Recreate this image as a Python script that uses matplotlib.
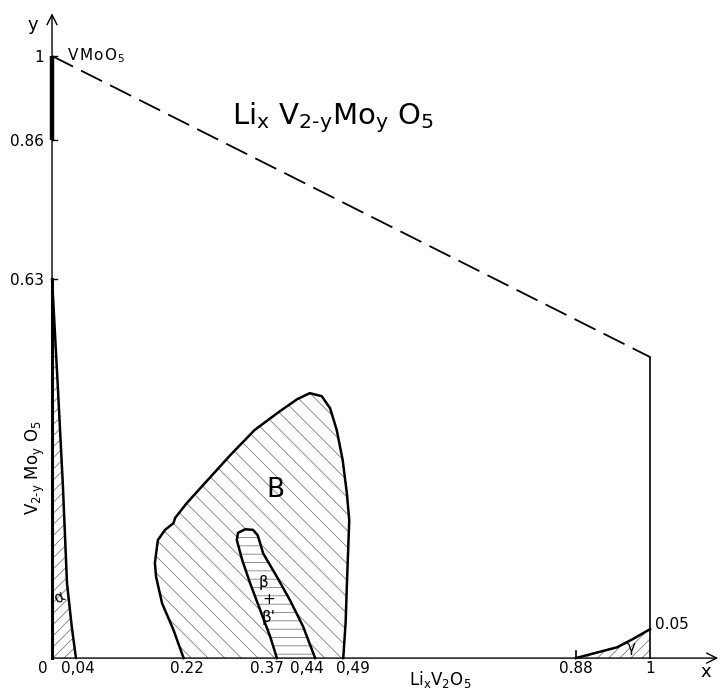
import matplotlib
matplotlib.use("Agg")
import matplotlib.pyplot as plt
from matplotlib.transforms import ScaledTranslation

plt.rcParams['font.family'] = ['DejaVu Sans']
plt.rcParams['hatch.linewidth'] = 0.55

# ---------------- data ----------------
# alpha phase: boundary x(y) near the y axis
alpha_x = [0.0, 0.010, 0.018, 0.025, 0.033, 0.040, 0.0]
alpha_y = [0.63, 0.445, 0.29, 0.125, 0.052, 0.0, 0.0]

# B phase outer boundary
b_x = [0.22, 0.203, 0.184, 0.174, 0.172, 0.177, 0.189, 0.203, 0.206, 0.225,
       0.256, 0.298, 0.339, 0.381, 0.410, 0.431, 0.451, 0.465, 0.476, 0.486,
       0.493, 0.497, 0.495, 0.493, 0.491, 0.487]
b_y = [0.0, 0.047, 0.091, 0.135, 0.158, 0.196, 0.213, 0.224, 0.233, 0.257,
       0.291, 0.337, 0.379, 0.410, 0.430, 0.440, 0.435, 0.415, 0.379, 0.329,
       0.274, 0.229, 0.174, 0.120, 0.060, 0.0]

# beta + beta' two-phase region
bb_x = [0.376, 0.365, 0.348, 0.331, 0.318, 0.309, 0.311, 0.323, 0.336, 0.344,
        0.353, 0.376, 0.398, 0.420, 0.440]
bb_y = [0.0, 0.035, 0.080, 0.125, 0.163, 0.196, 0.208, 0.214, 0.213, 0.204,
        0.174, 0.135, 0.096, 0.052, 0.0]

# gamma phase
g_x = [0.876, 0.945, 0.972, 1.0, 1.0]
g_y = [0.0, 0.018, 0.032, 0.048, 0.0]

# solid-solution range of VMoO5 on the y axis
vmo_y = [0.86, 1.0]
# limit of the system: dashed line VMoO5 -> (1, 0.5), then x = 1
limit_x = [0.0, 1.0]
limit_y = [1.0, 0.5]
right_x = [1.0, 1.0]
right_y = [0.0, 0.5]

xticks = [0.0, 0.04, 0.22, 0.37, 0.44, 0.49, 0.88, 1.0]
xtick_labels = ['0', '0,04', '0.22', '0.37', '0,44', '0,49', '0.88', '1']
yticks = [0.63, 0.86, 1.0]
ytick_labels = ['0.63', '0.86', '1']

# ---------------- figure ----------------
fig = plt.figure(figsize=(7.23, 6.9), dpi=100)
ax = fig.add_axes([0, 0, 1, 1])
ax.set_xlim(-0.087, 1.122)
ax.set_ylim(-0.053, 1.093)
for s in ax.spines.values():
    s.set_visible(False)

lw_b = 1.8
hc = '0.45'

# alpha
ax.fill(alpha_x, alpha_y, facecolor='white', edgecolor=hc, linewidth=0, hatch='///')
ax.plot(alpha_x[:-1], alpha_y[:-1], color='black', lw=lw_b, solid_capstyle='round')
ax.plot([0, 0], [0, alpha_y[0]], color='black', lw=2.2)

# B
ax.fill(b_x, b_y, facecolor='white', edgecolor=hc, linewidth=0, hatch='\\\\')
ax.plot(b_x, b_y, color='black', lw=lw_b, solid_joinstyle='round')
# beta + beta'
ax.fill(bb_x, bb_y, facecolor='white', edgecolor=hc, linewidth=0, hatch='--')
ax.plot(bb_x, bb_y, color='black', lw=lw_b, solid_joinstyle='round')

# gamma
ax.fill(g_x, g_y, facecolor='white', edgecolor=hc, linewidth=0, hatch='///')
ax.plot(g_x[:-1], g_y[:-1], color='black', lw=lw_b)
ax.plot([g_x[0], g_x[0]], [0, 0.012], color='black', lw=1.2)

# VMoO5 range
ax.plot([0, 0], vmo_y, color='black', lw=3.2, solid_capstyle='butt')

# limits
ax.plot(limit_x, limit_y, color='black', lw=1.3, dashes=(13, 5))
ax.plot(right_x, right_y, color='black', lw=1.2)

# axes with arrows
ax.annotate('', xy=(1.114, 0), xytext=(0, 0),
            arrowprops=dict(arrowstyle='->', lw=1.0, color='black',
                            shrinkA=0, shrinkB=0, mutation_scale=18))
ax.annotate('', xy=(0, 1.071), xytext=(0, 0),
            arrowprops=dict(arrowstyle='->', lw=1.0, color='black',
                            shrinkA=0, shrinkB=0, mutation_scale=18))

# ticks
ax.set_xticks(xticks)
ax.set_xticklabels(xtick_labels, fontsize=11)
ax.tick_params(axis='x', length=0, pad=4)
ax.xaxis.set_ticks_position('bottom')
offsets_px = [-9, 2, 3, -6, -8, 8, -2, 0]
for lab, dx in zip(ax.get_xticklabels(), offsets_px):
    lab.set_transform(ax.get_xaxis_transform() +
                      ScaledTranslation(dx / 100, 0, fig.dpi_scale_trans))
    lab.set_y(0.053 / 1.146 - 0.004)
    lab.set_va('top')

ax.set_yticks(yticks)
ax.set_yticklabels(ytick_labels, fontsize=11)
ax.tick_params(axis='y', length=0)
for lab in ax.get_yticklabels():
    lab.set_transform(ax.get_yaxis_transform() +
                      ScaledTranslation(-0.08, 0, fig.dpi_scale_trans))
    lab.set_x(0.087 / 1.209)
    lab.set_ha('right')
for yv in yticks:
    ax.plot([0, 0.009], [yv, yv], color='black', lw=1.0)

# texts
ax.text(-0.032, 1.051, 'y', fontsize=13, ha='center', va='center')
ax.text(1.094, -0.023, 'x', fontsize=13, ha='center', va='center')
ax.text(0.025, 0.993, r'V$\,$Mo$\,$O$_5$', fontsize=11, ha='left', va='baseline')
ax.text(0.47, 0.887, r'Li$_\mathregular{x}$ V$_\mathregular{2‐y}$Mo$_\mathregular{y}$ O$_5$',
        fontsize=21, ha='center', va='baseline')
ax.text(0.65, -0.036, r'Li$_\mathregular{x}$V$_2$O$_5$', fontsize=12, ha='center', va='center')
ax.text(-0.0285, 0.317, r'V$_\mathregular{2‐y}$ Mo$_\mathregular{y}$ O$_5$', fontsize=12,
        ha='center', va='center', rotation=90)
ax.text(1.008, 0.055, '0.05', fontsize=11, ha='left', va='center')
ax.text(0.374, 0.280, 'B', fontsize=19, ha='center', va='center')
ax.text(0.353, 0.125, 'β', fontsize=11, ha='center', va='center')
ax.text(0.362, 0.098, '+', fontsize=11, ha='center', va='center')
ax.text(0.362, 0.068, "β'", fontsize=11, ha='center', va='center')
ax.text(0.012, 0.100, 'α', fontsize=11, ha='center', va='center', rotation=30)
ax.text(0.968, 0.017, 'γ', fontsize=11, ha='center', va='center')

fig.savefig('out.png', dpi=100)
